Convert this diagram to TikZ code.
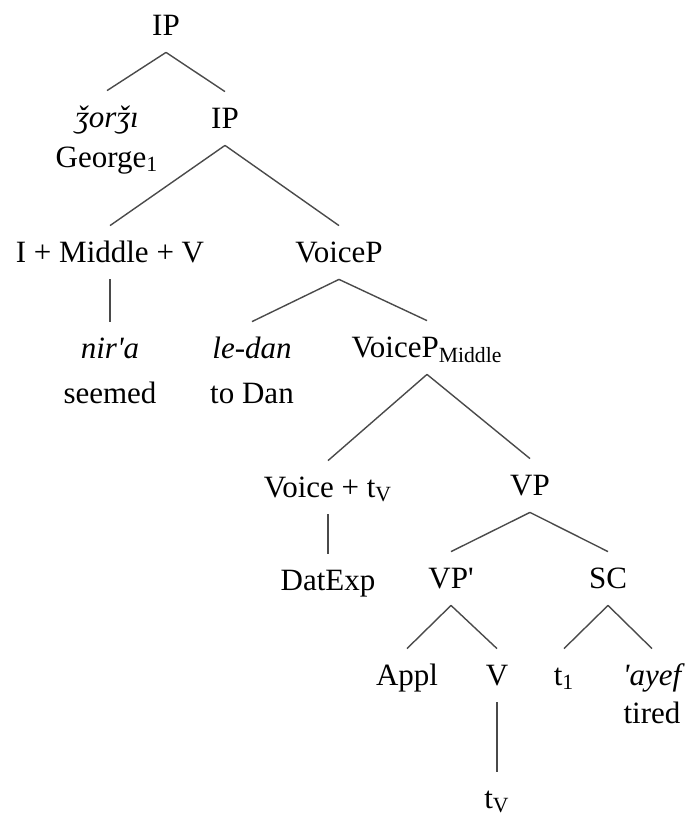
\documentclass[tikz,border=0pt]{standalone}
\usepackage{fontspec}
\setmainfont{Liberation Serif}
\usepackage{tikz}
\definecolor{branch}{HTML}{4A4A4A}
\newcommand{\lo}[1]{\textsubscript{#1}}
\newcommand{\apos}{\textquotesingle}

\begin{document}
\begin{tikzpicture}[x=0.5pt,y=-0.5pt,
  every node/.style={font=\fontsize{15.5}{18}\selectfont,anchor=base,
    inner sep=0pt,text height=18pt,text depth=8.5pt},
  obj/.style={font=\fontsize{15.5}{18}\selectfont\itshape},
  br/.style={branch,line width=0.7pt}
]
\useasboundingbox (0,0) rectangle (688,821);

% categories and words, placed on their baselines
\node (ip) at (166,35) {IP};
\node[obj] (zorzi) at (107,127) {ǯorǯı};
\node (george) at (107,167) {George\lo{1}};
\node (ipb) at (225,128) {IP};
\node (imv) at (110,262) {I + Middle + V};
\node (voicep) at (339,262) {VoiceP};
\node[obj] (nira) at (110,358) {nir\apos a};
\node (seemed) at (110,403) {seemed};
\node[obj] (ledan) at (252,358) {le-dan};
\node (todan) at (252,403) {to Dan};
\node (vpmid) at (427,357) {VoiceP\lo{Middle}};
\node (voice) at (328,497) {Voice + t\lo{V}};
\node (vp) at (530,495) {VP};
\node (datexp) at (328,590) {DatExp};
\node (vpbar) at (451,588) {VP\apos};
\node (sc) at (608,588) {SC};
\node (appl) at (407,685) {Appl};
\node (v) at (497,685) {V};
\node (trace) at (564,685) {t\lo{1}};
\node[obj] (ayef) at (652,685) {\apos ayef};
\node (tired) at (652,723) {tired};
\node (tv) at (497,808) {t\lo{V}};

% branches
\foreach \a/\b in {ip/zorzi,ip/ipb,ipb/imv,ipb/voicep,imv/nira,
    voicep/ledan,voicep/vpmid,vpmid/voice,vpmid/vp,voice/datexp,
    vp/vpbar,vp/sc,vpbar/appl,vpbar/v,sc/trace,sc/ayef,v/tv}
  \draw[br] (\a.south) -- (\b.north);
\end{tikzpicture}
\end{document}
